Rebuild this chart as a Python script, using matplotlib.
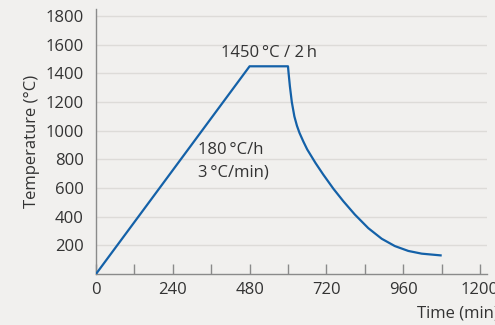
import matplotlib.pyplot as plt

# firing profile: ramp, hold, cooling
time_min = [0, 480, 600, 602, 606, 612, 620, 628, 636, 648, 660, 686, 710,
            742, 773, 809, 851, 893, 934, 976, 1018, 1077]
temp_c = [0, 1450, 1450, 1400, 1310, 1200, 1100, 1035, 985, 925, 870, 775, 695,
          595, 508, 415, 320, 246, 195, 161, 142, 130]

x_ticks = [0, 240, 480, 720, 960, 1200]
x_minor = [120, 360, 600, 840, 1080]
y_ticks = [200, 400, 600, 800, 1000, 1200, 1400, 1600, 1800]

bg = '#f1f0ee'
txt = '#333333'
line_col = '#1461a8'

plt.rcParams['font.family'] = ['Open Sans', 'DejaVu Sans']

fig = plt.figure(figsize=(4.95, 3.25), dpi=100, facecolor=bg)
ax = fig.add_axes([96 / 495, 51 / 325, 391 / 495, 265 / 325])
ax.set_facecolor(bg)

ax.plot(time_min, temp_c, color=line_col, linewidth=1.6,
        solid_joinstyle='round', zorder=3)

ax.set_xlim(0, 1222)
ax.set_ylim(0, 1850)

ax.set_xticks(x_ticks)
ax.set_xticks(x_minor, minor=True)
ax.set_yticks(y_ticks)
ax.tick_params(axis='x', which='both', direction='in', length=7, width=1,
               color='#8a8a8a', labelsize=12, labelcolor=txt, pad=6)
ax.tick_params(axis='y', length=0, labelsize=12, labelcolor=txt, pad=9)

ax.grid(axis='y', color='#dddbd8', linewidth=1)
ax.set_axisbelow(True)

for s in ['top', 'right']:
    ax.spines[s].set_visible(False)
for s in ['left', 'bottom']:
    ax.spines[s].set_color('#8a8a8a')
    ax.spines[s].set_linewidth(1)

ax.set_ylabel('Temperature (°C)', fontsize=12, color=txt, labelpad=4)
fig.text(417 / 495, 1 - 313 / 325, 'Time (min)', fontsize=12, color=txt,
         ha='left', va='center')

ax.text(540, 1545, '1450\u2009°C / 2\u2009h', fontsize=12, color=txt,
        ha='center', va='center')
ax.text(318, 868, '180\u2009°C/h', fontsize=12, color=txt, ha='left', va='center')
ax.text(318, 712, '3\u2009°C/min)', fontsize=12, color=txt, ha='left', va='center')

fig.savefig('out.png', dpi=100, facecolor=bg)
